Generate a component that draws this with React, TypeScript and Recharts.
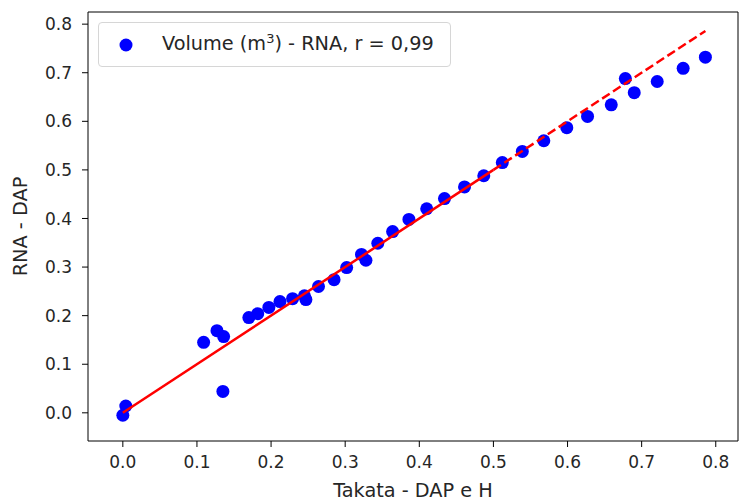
import { ScatterChart, Scatter, XAxis, YAxis, Legend } from 'recharts';

// valores (Takata x RNA)
const takata = [0.0, 0.004, 0.109, 0.127, 0.136, 0.135, 0.170, 0.182, 0.197, 0.212, 0.229, 0.245, 0.247, 0.264, 0.285, 0.302, 0.322, 0.328, 0.344, 0.364, 0.386, 0.410, 0.434, 0.461, 0.487, 0.512, 0.539, 0.568, 0.599, 0.627, 0.659, 0.678, 0.690, 0.721, 0.756, 0.786];
const rna = [-0.005, 0.014, 0.145, 0.169, 0.157, 0.044, 0.196, 0.204, 0.217, 0.229, 0.235, 0.241, 0.233, 0.260, 0.274, 0.299, 0.326, 0.314, 0.349, 0.373, 0.398, 0.420, 0.441, 0.465, 0.488, 0.515, 0.538, 0.560, 0.587, 0.610, 0.634, 0.688, 0.659, 0.682, 0.709, 0.732];

// reta 1:1 (parte sólida e parte tracejada)
const solidX = [0, 0.5];
const solidY = [0, 0.5];
const dashX = [0.5, 0.786];
const dashY = [0.5, 0.786];

const ticks = [0, 0.1, 0.2, 0.3, 0.4, 0.5, 0.6, 0.7, 0.8];
const xDomain: [number, number] = [-0.047, 0.83];
const yDomain: [number, number] = [-0.058, 0.825];

const points = takata.map((x, i) => ({ x, y: rna[i] }));
const solidLine = solidX.map((x, i) => ({ x, y: solidY[i] }));
const dashLine = dashX.map((x, i) => ({ x, y: dashY[i] }));

const font = '"DejaVu Sans", sans-serif';
const tickStyle = { fontSize: 17, fill: '#262626', fontFamily: font };
const titleSize = 19.3;

const YTitle = (props: any) => {
    const vb = props.viewBox;
    const cx = vb.x + 20;
    const cy = vb.y + vb.height / 2;
    return (
        <text x={cx} y={cy} transform={`rotate(-90 ${cx} ${cy})`} textAnchor="middle" dominantBaseline="central"
            style={{ fontSize: titleSize, fill: '#262626', fontFamily: font }}>
            RNA - DAP
        </text>
    );
};

const XTitle = (props: any) => {
    const vb = props.viewBox;
    return (
        <text x={vb.x + vb.width / 2} y={vb.y + 49} textAnchor="middle" dominantBaseline="central"
            style={{ fontSize: titleSize, fill: '#262626', fontFamily: font }}>
            Takata - DAP e H
        </text>
    );
};

const Dot = (p: any) => <circle cx={p.cx} cy={p.cy} r={6.5} fill="#0000ff" />;

const LegendBox = () => (
    <div style={{
        position: 'absolute', left: 98, top: 22, width: 351, height: 43,
        border: '1px solid #d6d6d6', borderRadius: 4, background: 'rgba(255,255,255,0.8)',
        fontFamily: font, fontSize: 19.3, color: '#262626', boxSizing: 'content-box',
    }}>
        <svg width={20} height={20} style={{ position: 'absolute', left: 17, top: 12 }}>
            <circle cx={10} cy={10} r={6.5} fill="#0000ff" />
        </svg>
        <span style={{ position: 'absolute', left: 63, top: 9, whiteSpace: 'nowrap', lineHeight: '24px' }}>
            Volume (m<sup style={{ fontSize: 13, verticalAlign: 'top', lineHeight: '14px' }}>3</sup>) - RNA, r = 0,99
        </span>
    </div>
);

export default function App() {
    return (
        <div style={{ position: 'absolute', left: 0, top: 0, background: '#fff' }}>
            <ScatterChart width={739} height={500} margin={{ top: 11, right: 0, bottom: 0, left: 0 }}>
                <XAxis
                    type="number" dataKey="x" domain={xDomain} ticks={ticks} allowDataOverflow
                    tickFormatter={(v: number) => v.toFixed(1)} height={59} tickSize={6} tickMargin={9}
                    tick={tickStyle} axisLine={{ stroke: '#000' }} tickLine={{ stroke: '#000' }}
                    interval={0} label={<XTitle />}
                />
                <YAxis
                    type="number" dataKey="y" domain={yDomain} ticks={ticks} allowDataOverflow
                    tickFormatter={(v: number) => v.toFixed(1)} width={88} tickSize={6} tickMargin={10}
                    tick={tickStyle} axisLine={{ stroke: '#000' }} tickLine={{ stroke: '#000' }}
                    interval={0} label={<YTitle />}
                />
                <XAxis xAxisId="top" orientation="top" type="number" dataKey="x" domain={xDomain} allowDataOverflow height={1} tick={false} tickLine={false} axisLine={{ stroke: '#000' }} />
                <YAxis yAxisId="right" orientation="right" type="number" dataKey="y" domain={yDomain} allowDataOverflow width={1} tick={false} tickLine={false} axisLine={{ stroke: '#000' }} />
                <Scatter name="Volume (m³) - RNA, r = 0,99" data={points} fill="#0000ff" shape={Dot} isAnimationActive={false} />
                <Scatter data={solidLine} line={{ stroke: '#ff0000', strokeWidth: 2.5 }} shape={() => <g />} isAnimationActive={false} legendType="none" />
                <Scatter data={dashLine} xAxisId="top" yAxisId="right" line={{ stroke: '#ff0000', strokeWidth: 2.5, strokeDasharray: '9 4' }} shape={() => <g />} isAnimationActive={false} legendType="none" />
                <Legend content={() => <LegendBox />} wrapperStyle={{ position: 'absolute', left: 0, top: 0, width: 0, height: 0 }} />
            </ScatterChart>
        </div>
    );
}
